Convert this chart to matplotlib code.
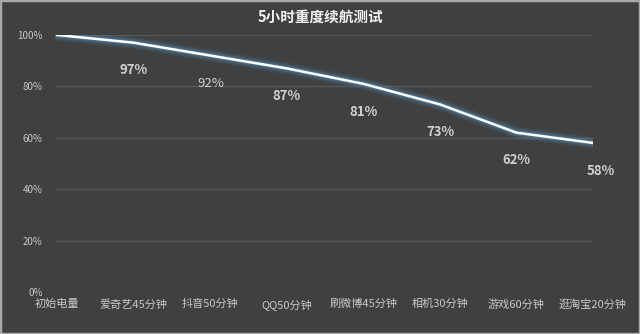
import matplotlib
matplotlib.use("Agg")
import matplotlib.pyplot as plt
import numpy as np

plt.rcParams['font.family'] = ['Noto Sans CJK SC', 'DejaVu Sans']

categories = ["初始电量", "爱奇艺45分钟", "抖音50分钟", "QQ50分钟", "刷微博45分钟",
              "相机30分钟", "游戏60分钟", "逛淘宝20分钟"]
values = [100, 97, 92, 87, 81, 73, 62, 58]
label_texts = ["", "97%", "92%", "87%", "81%", "73%", "62%", "58%"]
label_bold = [False, True, False, True, True, True, True, True]
yticks = [0, 20, 40, 60, 80, 100]
ytick_labels = ["0%", "20%", "40%", "60%", "80%", "100%"]

bg = "#404040"
fig = plt.figure(figsize=(6.4, 3.34), dpi=100, facecolor=bg)
ax = fig.add_axes([55/640, 1-292/334, (593-55)/640, (292-35)/334])
ax.set_facecolor(bg)

x = np.arange(len(categories))
# glow
for lw, a in [(9, 0.10), (7, 0.15), (5, 0.25), (3.5, 0.35)]:
    ax.plot(x, values, color="#4f87b0", lw=lw, alpha=a, solid_capstyle="round",
            solid_joinstyle="round", zorder=3)
ax.plot(x, values, color="white", lw=1.8, zorder=4, solid_joinstyle="round")

for xi, v, t, b in zip(x, values, label_texts, label_bold):
    if t:
        dx = 0.1 if xi == len(categories) - 1 else 0
        ax.annotate(t, (xi + dx, v), xytext=(0, -20), textcoords="offset points",
                    ha="center", va="center", fontsize=9.5, annotation_clip=False,
                    fontweight="bold" if b else "normal", color="#d0d0d0", zorder=5)

ax.set_xlim(-0.03, 7)
ax.set_ylim(0, 100)
ax.set_yticks(yticks)
ax.set_yticklabels(ytick_labels, fontsize=7, color="#c8c8c8")
ax.set_xticks(x)
ax.set_xticklabels(categories, fontsize=8, color="#c8c8c8")
ax.tick_params(length=0)
ax.tick_params(axis="y", pad=9)
ax.tick_params(axis="x", pad=5)
for s in ax.spines.values():
    s.set_visible(False)
for yv in yticks[1:]:
    ax.axhline(yv, color="#575757", lw=1, zorder=1)

fig.text(0.5, 1-17/334, "5小时重度续航测试", ha="center", va="center",
         fontsize=10.5, fontweight="bold", color="#f0f0f0")

border = plt.Rectangle((0, 0), 1, 1, transform=fig.transFigure, fill=False,
                       edgecolor="#a8a8a8", lw=2.5)
fig.patches.append(border)

fig.savefig("out.png", dpi=100, facecolor=bg)
